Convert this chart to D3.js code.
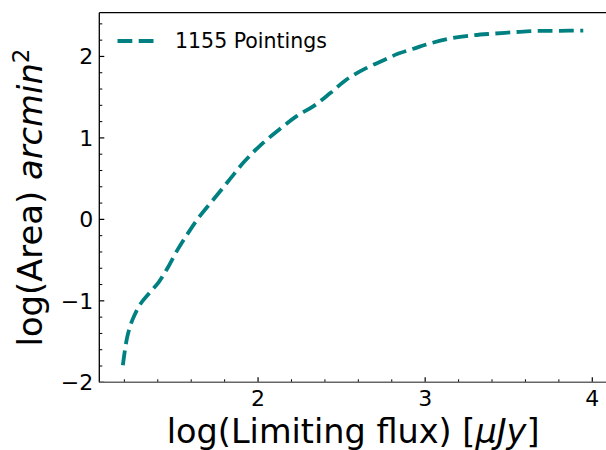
<!DOCTYPE html>
<html><head><meta charset="utf-8">
<script src="https://cdn.jsdelivr.net/npm/d3@7"></script>
<style>body{margin:0;background:#fff}svg{display:block;font-family:"DejaVu Sans",sans-serif}</style>
</head><body><svg id="c" width="606" height="450"></svg>
<script>
const fluxLog = [1.191, 1.217, 1.247, 1.297, 1.346, 1.406, 1.456, 1.516, 1.585, 1.655, 1.745, 1.834, 1.914, 2.014, 2.143, 2.233, 2.332, 2.432, 2.532, 2.641, 2.751, 2.84, 2.93, 3.03, 3.15, 3.289, 3.408, 3.548, 3.668, 3.807, 3.946];
const areaLog = [-1.79, -1.446, -1.24, -1.035, -0.913, -0.77, -0.606, -0.381, -0.156, 0.049, 0.274, 0.5, 0.70, 0.909, 1.13, 1.27, 1.39, 1.55, 1.72, 1.85, 1.953, 2.035, 2.095, 2.16, 2.22, 2.26, 2.28, 2.30, 2.313, 2.315, 2.318];
const seriesName = "1155 Pointings";
const xTicks = [2, 3, 4];
const yTicks = [-2, -1, 0, 1, 2];

const svg = d3.select("#c");
const L = 99.3, R = 607, T = 12.7, B = 382.3;
const x = d3.scaleLinear().domain([1.05, 4.088]).range([L, R]);
const y = d3.scaleLinear().domain([-2, 2.537]).range([B, T]);
const minus = s => String(s).replace("-", "\u2212");

const xMinor = d3.range(1.2, 4.09, 0.2).filter(v => Math.abs(v - Math.round(v)) > 1e-6);
const yMinor = d3.range(-1.8, 2.55, 0.2).filter(v => Math.abs(v - Math.round(v)) > 1e-6);

const g = svg.append("g");
g.selectAll(".xm").data(xMinor).join("line").attr("x1", d => x(d)).attr("x2", d => x(d)).attr("y1", B).attr("y2", B - 3).attr("stroke", "#000").attr("stroke-width", 1);
g.selectAll(".xM").data(xTicks).join("line").attr("x1", d => x(d)).attr("x2", d => x(d)).attr("y1", B).attr("y2", B - 5).attr("stroke", "#000").attr("stroke-width", 1.2);
g.selectAll(".ym").data(yMinor).join("line").attr("y1", d => y(d)).attr("y2", d => y(d)).attr("x1", L).attr("x2", L + 3).attr("stroke", "#000").attr("stroke-width", 1);
g.selectAll(".yM").data(yTicks).join("line").attr("y1", d => y(d)).attr("y2", d => y(d)).attr("x1", L).attr("x2", L + 5).attr("stroke", "#000").attr("stroke-width", 1.2);

g.selectAll(".xl").data(xTicks).join("text").attr("x", d => x(d)).attr("y", B + 24).attr("text-anchor", "middle").attr("font-size", 22).attr("fill", "#000").text(d => minus(d));
g.selectAll(".yl").data(yTicks).join("text").attr("x", L - 6).attr("y", d => y(d) + 8).attr("text-anchor", "end").attr("font-size", 22).attr("fill", "#000").text(d => minus(d));

svg.append("line").attr("x1", L).attr("x2", 606).attr("y1", T).attr("y2", T).attr("stroke", "#000").attr("stroke-width", 1.3);
svg.append("line").attr("x1", L).attr("x2", L).attr("y1", T).attr("y2", B).attr("stroke", "#000").attr("stroke-width", 1.3);
svg.append("line").attr("x1", L).attr("x2", 606).attr("y1", B).attr("y2", B).attr("stroke", "#666").attr("stroke-width", 1.5);

const pts = fluxLog.map((v, i) => [v, areaLog[i]]);
svg.append("path").datum(pts)
  .attr("d", d3.line().x(d => x(d[0])).y(d => y(d[1])).curve(d3.curveCatmullRom.alpha(0.5)))
  .attr("fill", "none").attr("stroke", "#008080").attr("stroke-width", 3.8).attr("stroke-dasharray", "14.8,6.4");

svg.append("line").attr("x1", 117.5).attr("x2", 154.5).attr("y1", 41).attr("y2", 41).attr("stroke", "#008080").attr("stroke-width", 3.8).attr("stroke-dasharray", "14.8,6.4");
svg.append("text").attr("x", 175).attr("y", 47.5).attr("font-size", 20.5).attr("fill", "#000").text(seriesName);

const xl = svg.append("text").attr("x", (L + R) / 2).attr("y", 443).attr("text-anchor", "middle").attr("font-size", 33.5).attr("fill", "#000");
xl.append("tspan").text("log(Limiting flux) [");
xl.append("tspan").attr("font-style", "italic").text("μJy");
xl.append("tspan").text("]");

const yl = svg.append("text").attr("transform", `translate(42,${(T + B) / 2}) rotate(-90)`).attr("text-anchor", "middle").attr("font-size", 33.8).attr("fill", "#000");
yl.append("tspan").text("log(Area) ");
yl.append("tspan").attr("font-style", "italic").text("arcmin");
yl.append("tspan").attr("font-size", 23).attr("dy", -13).text("2");
</script></body></html>
